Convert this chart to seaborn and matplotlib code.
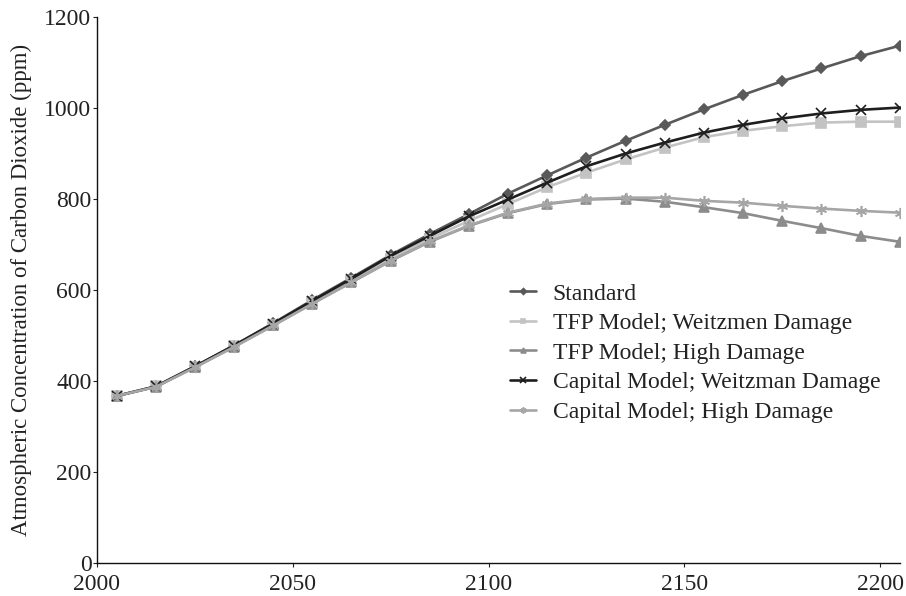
import matplotlib
matplotlib.use("Agg")
import matplotlib.pyplot as plt
import numpy as np
import pandas as pd
import seaborn as sns

years = list(range(2005, 2206, 10))

standard = [367, 388, 432, 478, 527, 578, 627, 677, 723, 767, 812, 852, 891,
            928, 963, 997, 1029, 1059, 1087, 1114, 1137]
tfp_weitzman = [367, 388, 431, 477, 524, 573, 620, 669, 713, 752, 789, 826, 858,
                887, 913, 936, 950, 960, 968, 970, 970]
tfp_high = [367, 387, 430, 475, 522, 570, 617, 664, 706, 741, 769, 789, 799,
            801, 794, 782, 769, 752, 736, 719, 706]
capital_weitzman = [367, 388, 432, 478, 526, 576, 625, 675, 719, 762, 799, 836, 872,
                    900, 924, 946, 963, 977, 988, 996, 1001]
capital_high = [367, 387, 430, 475, 522, 570, 617, 664, 707, 742, 770, 790, 800,
                803, 803, 796, 792, 785, 779, 774, 770]

series_names = [
    "Standard",
    "TFP Model; Weitzmen Damage",
    "TFP Model; High Damage",
    "Capital Model; Weitzman Damage",
    "Capital Model; High Damage",
]
series_values = [standard, tfp_weitzman, tfp_high, capital_weitzman, capital_high]

y_ticks = [0, 200, 400, 600, 800, 1000, 1200]
x_ticks = [2000, 2050, 2100, 2150, 2200]

df = pd.concat(
    [pd.DataFrame({"Year": years, "CO2": vals, "Scenario": name})
     for name, vals in zip(series_names, series_values)],
    ignore_index=True,
)

colors = {
    "Standard": "#595959",
    "TFP Model; Weitzmen Damage": "#c3c3c3",
    "TFP Model; High Damage": "#8c8c8c",
    "Capital Model; Weitzman Damage": "#1e1e1e",
    "Capital Model; High Damage": "#a6a6a6",
}
markers = {
    "Standard": "D",
    "TFP Model; Weitzmen Damage": "s",
    "TFP Model; High Damage": "^",
    "Capital Model; Weitzman Damage": "x",
    "Capital Model; High Damage": (6, 2, 0),
}
sizes = {
    "Standard": 5.5,
    "TFP Model; Weitzmen Damage": 6.5,
    "TFP Model; High Damage": 6.5,
    "Capital Model; Weitzman Damage": 7,
    "Capital Model; High Damage": 8,
}

sns.set_style("ticks")
plt.rcParams["font.family"] = ["Liberation Serif", "DejaVu Serif"]

fig = plt.figure(figsize=(9.06, 5.96), dpi=100)
ax = fig.add_axes([0.107, 0.0554, 0.886, 0.916])

for name in series_names:
    sub = df[df["Scenario"] == name]
    sns.lineplot(
        data=sub, x="Year", y="CO2", color=colors[name], marker=markers[name],
        markersize=sizes[name], markeredgecolor=colors[name],
        markerfacecolor=colors[name], markeredgewidth=1.2,
        linewidth=1.9, label=name, ax=ax,
    )

ax.set_xlim(2000, 2205)
ax.set_ylim(0, 1200)
ax.set_xticks(x_ticks)
ax.set_yticks(y_ticks)
ax.tick_params(axis="both", labelsize=17, length=3, width=0.8, colors="#222222",
               labelcolor="#222222", direction="out")
ax.tick_params(axis="y", pad=1)
ax.tick_params(axis="x", pad=5)
ax.set_xlabel("")
ax.set_ylabel("Atmospheric Concentration of Carbon Dioxide (ppm)", fontsize=16.5,
              color="#222222", labelpad=9)
for s in ["left", "bottom"]:
    ax.spines[s].set_linewidth(1.0)
    ax.spines[s].set_color("#111111")
sns.despine(ax=ax)

handles, labels = ax.get_legend_handles_labels()
leg = ax.legend(handles, labels, loc="upper left", bbox_to_anchor=(0.503, 0.53),
                frameon=False, fontsize=17, handlelength=1.1, handletextpad=0.7,
                labelspacing=0.34, borderaxespad=0, markerscale=0.55)
for t in leg.get_texts():
    t.set_color("#222222")

fig.savefig("out.png", dpi=100)
